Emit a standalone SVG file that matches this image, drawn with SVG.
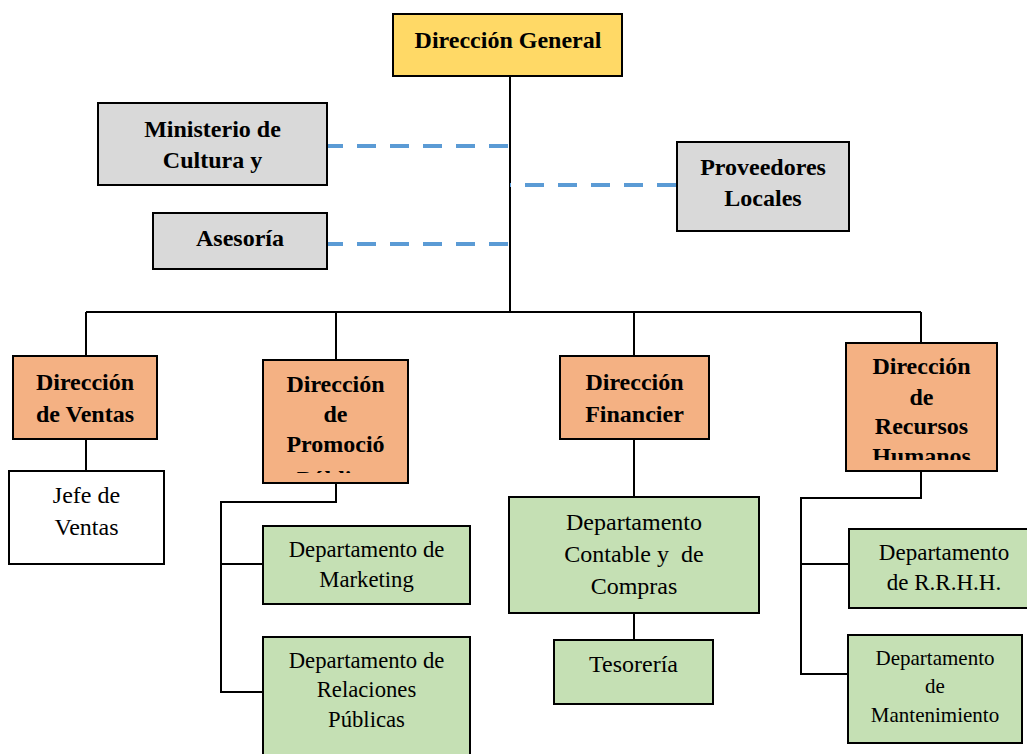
<svg xmlns="http://www.w3.org/2000/svg" width="1027" height="754" viewBox="0 0 1027 754">
  <defs>
    <style>
      .box { stroke: #000; stroke-width: 2; }
      .gold { fill: #FFD966; }
      .grey { fill: #D9D9D9; }
      .orange { fill: #F4B183; }
      .green { fill: #C5E0B4; }
      .white { fill: #FFFFFF; }
      .hd { font-family: "Liberation Serif", "Times New Roman", serif; font-weight: bold; font-size: 24px; fill: #000; text-anchor: middle; }
      .tx { font-family: "Liberation Serif", "Times New Roman", serif; font-size: 22.7px; fill: #000; text-anchor: middle; }
      .lg { font-size: 24px; }
      .md { font-size: 23px; }
      .sm { font-size: 21px; }
      .solid { fill: none; stroke: #000; stroke-width: 2; }
      .dash { fill: none; stroke: #5B9BD5; stroke-width: 4; stroke-dasharray: 19 14; }
    </style>
    <clipPath id="clipPromo"><rect x="263" y="360" width="145" height="113"/></clipPath>
    <clipPath id="clipRRHH"><rect x="846" y="343" width="151" height="117"/></clipPath>
  </defs>
  <rect width="1027" height="754" fill="#fff"/>

  <!-- connectors -->
  <g id="connectors">
    <path class="solid" d="M510 76 V312 M86 312 H921 M86 312 V356 M336 312 V360 M634 312 V356 M921 312 V343"/>
    <path class="solid" d="M86 439 V471"/>
    <path class="solid" d="M336 483 V502 H221 V692 H263 M221 564 H263"/>
    <path class="solid" d="M634 439 V497 M634 613 V640"/>
    <path class="solid" d="M921 471 V498 H801 V674 H848 M801 564 H849"/>
    <path class="dash" d="M508 146 H327"/>
    <path class="dash" d="M508 244 H327"/>
    <path class="dash" d="M676 185 H510"/>
  </g>

  <g id="direccion-general">
    <rect class="box gold" x="393" y="14" width="229" height="62"/>
    <text class="hd" x="508" y="48">Dirección General</text>
  </g>

  <g id="ministerio">
    <rect class="box grey" x="98" y="103" width="229" height="82"/>
    <text class="hd" x="212.5" y="137">Ministerio de</text>
    <text class="hd" x="212.5" y="168">Cultura y</text>
  </g>

  <g id="asesoria">
    <rect class="box grey" x="153" y="213" width="174" height="56"/>
    <text class="hd" x="240" y="246">Asesoría</text>
  </g>

  <g id="proveedores">
    <rect class="box grey" x="677" y="142" width="172" height="89"/>
    <text class="hd" x="763" y="175">Proveedores</text>
    <text class="hd" x="763" y="206">Locales</text>
  </g>

  <g id="dir-ventas">
    <rect class="box orange" x="13" y="356" width="144" height="83"/>
    <text class="hd" x="85" y="390">Dirección</text>
    <text class="hd" x="85" y="422">de Ventas</text>
  </g>

  <g id="jefe-ventas">
    <rect class="box white" x="9" y="471" width="155" height="93"/>
    <text class="tx lg" x="86.5" y="503">Jefe de</text>
    <text class="tx lg" x="86.5" y="535">Ventas</text>
  </g>

  <g id="dir-promocion">
    <rect class="box orange" x="263" y="360" width="145" height="123"/>
    <g clip-path="url(#clipPromo)">
      <text class="hd" x="335.5" y="392">Dirección</text>
      <text class="hd" x="335.5" y="422">de</text>
      <text class="hd" x="335.5" y="452">Promoció</text>
      <text class="hd" x="335.5" y="487">Pública</text>
    </g>
  </g>

  <g id="dep-marketing">
    <rect class="box green" x="263" y="526" width="207" height="78"/>
    <text class="tx" x="366.5" y="557">Departamento de</text>
    <text class="tx" x="366.5" y="587">Marketing</text>
  </g>

  <g id="dep-relaciones">
    <rect class="box green" x="263" y="637" width="207" height="130"/>
    <text class="tx" x="366.5" y="668">Departamento de</text>
    <text class="tx" x="366.5" y="697">Relaciones</text>
    <text class="tx" x="366.5" y="727">Públicas</text>
  </g>

  <g id="dir-financiera">
    <rect class="box orange" x="560" y="356" width="149" height="83"/>
    <text class="hd" x="634.5" y="390">Dirección</text>
    <text class="hd" x="634.5" y="422">Financier</text>
  </g>

  <g id="dep-contable">
    <rect class="box green" x="509" y="497" width="250" height="116"/>
    <text class="tx lg" x="634" y="530">Departamento</text>
    <text class="tx lg" x="634" y="562" xml:space="preserve">Contable y  de</text>
    <text class="tx lg" x="634" y="594">Compras</text>
  </g>

  <g id="tesoreria">
    <rect class="box green" x="554" y="640" width="159" height="64"/>
    <text class="tx lg" x="633.5" y="672">Tesorería</text>
  </g>

  <g id="dir-rrhh">
    <rect class="box orange" x="846" y="343" width="151" height="128"/>
    <g clip-path="url(#clipRRHH)">
      <text class="hd" x="921.5" y="374">Dirección</text>
      <text class="hd" x="921.5" y="405">de</text>
      <text class="hd" x="921.5" y="434">Recursos</text>
      <text class="hd" x="921.5" y="464">Humanos</text>
    </g>
  </g>

  <g id="dep-rrhh">
    <rect class="box green" x="849" y="529" width="190" height="79"/>
    <text class="tx md" x="944" y="560">Departamento</text>
    <text class="tx md" x="944" y="590">de R.R.H.H.</text>
  </g>

  <g id="dep-mantenimiento">
    <rect class="box green" x="848" y="635" width="174" height="108"/>
    <text class="tx sm" x="935" y="665">Departamento</text>
    <text class="tx sm" x="935" y="693">de</text>
    <text class="tx sm" x="935" y="722">Mantenimiento</text>
  </g>
</svg>
